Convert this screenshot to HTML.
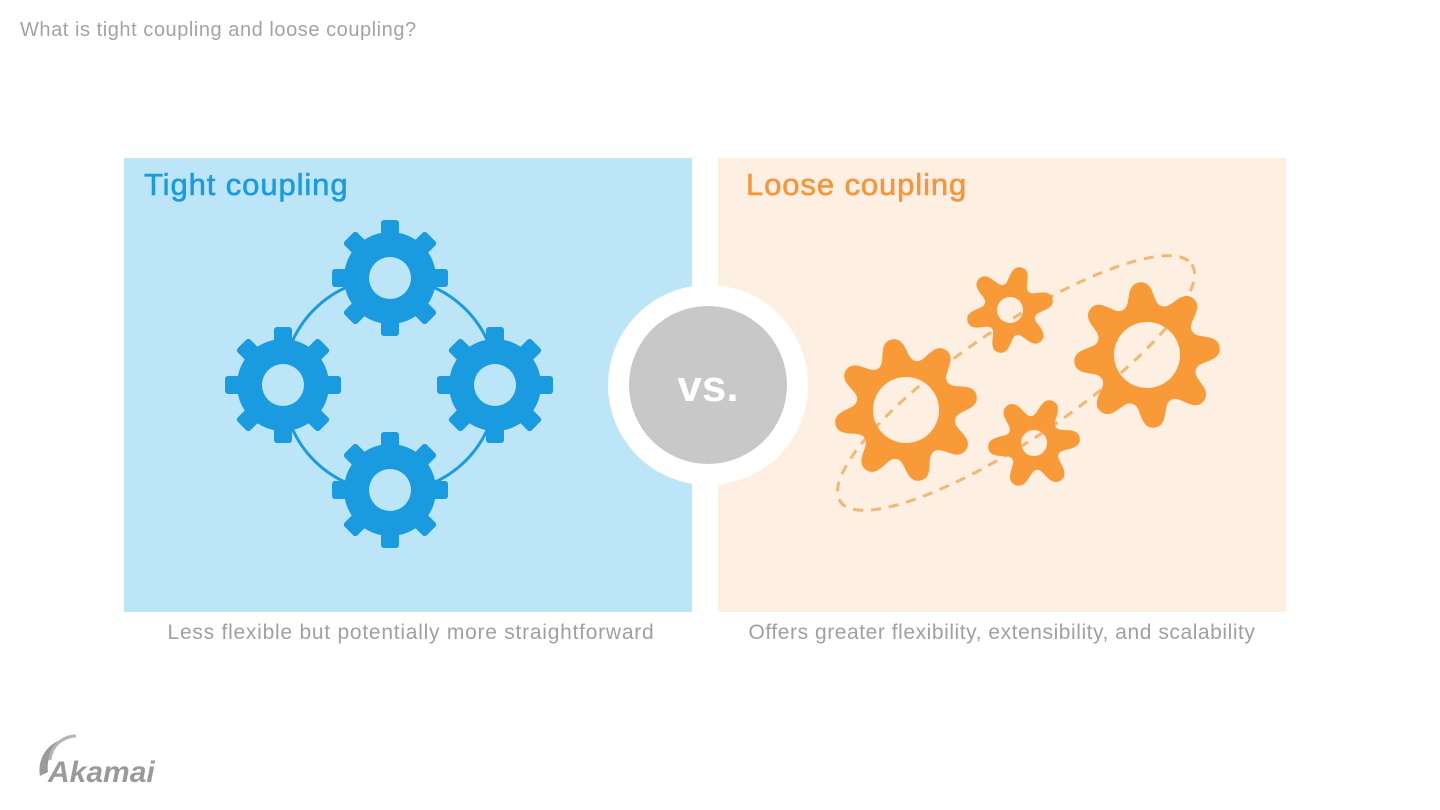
<!DOCTYPE html>
<html><head><meta charset="utf-8"><style>
body{margin:0;width:1440px;height:810px;background:#fff;overflow:hidden;font-family:"Liberation Sans",sans-serif;position:relative}
.t{position:absolute;white-space:nowrap}
</style></head><body>
<div class="t" style="left:20px;top:19px;font-size:20px;letter-spacing:0.55px;color:#a3a3a3">What is tight coupling and loose coupling?</div>
<div style="position:absolute;left:124px;top:158px;width:568px;height:454px;background:#bde5f8"></div>
<div style="position:absolute;left:718px;top:158px;width:568px;height:454px;background:#fdf0e2"></div>
<div class="t" style="left:144px;top:167px;font-size:31px;letter-spacing:0.9px;color:#1a9be0;-webkit-text-stroke:0.6px #1a9be0">Tight coupling</div>
<div class="t" style="left:746px;top:167px;font-size:31px;letter-spacing:0.9px;color:#f7953a;-webkit-text-stroke:0.6px #f7953a">Loose coupling</div>
<div class="t" style="left:124px;width:574px;text-align:center;top:621px;font-size:21px;letter-spacing:0.75px;color:#a0a0a0">Less flexible but potentially more straightforward</div>
<div class="t" style="left:718px;width:568px;text-align:center;top:621px;font-size:21px;letter-spacing:0.55px;color:#a0a0a0">Offers greater flexibility, extensibility, and scalability</div>
<svg id="s" width="1440" height="810" style="position:absolute;left:0;top:0">
<circle cx="390" cy="385" r="107" fill="none" stroke="#1a9be0" stroke-width="3"/>
<ellipse cx="1016" cy="383" rx="212" ry="56" transform="rotate(-34 1016 383)" fill="none" stroke="#f0b874" stroke-width="3" stroke-dasharray="10 8"/>
<circle cx="708" cy="385" r="100" fill="#fff"/>
<circle cx="708" cy="385" r="79" fill="#c8c8c8"/>
<text x="708" y="401" text-anchor="middle" font-family="Liberation Sans" font-weight="bold" font-size="44" fill="#fff">vs.</text>
<text x="48" y="782" font-family="Liberation Sans" font-style="italic" font-weight="bold" font-size="30" fill="#9a9a9a">Akamai</text>
<path d="M40 776 A32 32 0 0 1 72 738 A30 30 0 0 0 48 772 Z" fill="#9a9a9a"/>
<path d="M50 760 A26 26 0 0 1 76 736" fill="none" stroke="#b5b5b5" stroke-width="3"/>
</svg>
<script>
var s=document.getElementById('s'),NS='http://www.w3.org/2000/svg';
function blue(cx,cy){
var g=document.createElementNS(NS,'g');
for(var i=0;i<8;i++){var r=document.createElementNS(NS,'rect');r.setAttribute('x',cx-9);r.setAttribute('y',cy-58);r.setAttribute('width',18);r.setAttribute('height',30);r.setAttribute('rx',3);r.setAttribute('fill','#1a9be0');r.setAttribute('transform','rotate('+(i*45)+' '+cx+' '+cy+')');g.appendChild(r);}
var c=document.createElementNS(NS,'circle');c.setAttribute('cx',cx);c.setAttribute('cy',cy);c.setAttribute('r',46);c.setAttribute('fill','#1a9be0');g.appendChild(c);
var h=document.createElementNS(NS,'circle');h.setAttribute('cx',cx);h.setAttribute('cy',cy);h.setAttribute('r',21);h.setAttribute('fill','#bde5f8');g.appendChild(h);s.appendChild(g);}
[[390,278],[283,385],[495,385],[390,490]].forEach(function(p){blue(p[0],p[1]);});
function orange(cx,cy,n,ro,ri,hole,rot){var d='',N=480;for(var i=0;i<=N;i++){var t=i/N*2*Math.PI;var c=Math.cos(n*(t+rot));var k=Math.tanh(1.1*c)/Math.tanh(1.1);var r=(ro+ri)/2+(ro-ri)/2*k;d+=(i?'L':'M')+(cx+r*Math.cos(t)).toFixed(1)+' '+(cy+r*Math.sin(t)).toFixed(1);}
d+='Z M'+(cx+hole)+' '+cy+' A'+hole+' '+hole+' 0 1 0 '+(cx-hole)+' '+cy+' A'+hole+' '+hole+' 0 1 0 '+(cx+hole)+' '+cy+'Z';
var p=document.createElementNS(NS,'path');p.setAttribute('d',d);p.setAttribute('fill','#f99a38');p.setAttribute('fill-rule','evenodd');s.insertBefore(p,s.children[2]);}
orange(906,410,8,72,50,33,0.2);
orange(1147,355,8,73,51,33,0.1);
orange(1010,310,6,44,26,13,0.26);
orange(1034,443,6,46,27,13,0.1);
</script>
</body></html>
